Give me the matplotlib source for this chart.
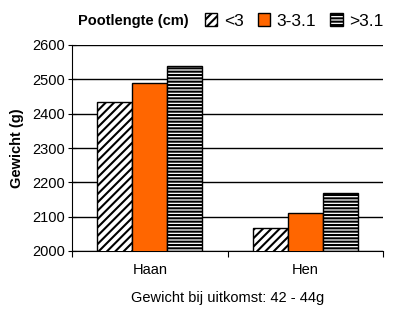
import matplotlib.pyplot as plt
import numpy as np
from matplotlib.patches import Patch

plt.rcParams['font.family'] = ['Liberation Sans', 'DejaVu Sans']
plt.rcParams['hatch.linewidth'] = 1.5

categories = ['Haan', 'Hen']
series = ['<3', '3-3.1', '>3.1']
vals_lt3 = [2435, 2066]
vals_mid = [2488, 2111]
vals_gt3 = [2538, 2168]
yticks = [2000, 2100, 2200, 2300, 2400, 2500, 2600]

fig = plt.figure(figsize=(4.2, 3.16), dpi=100)
ax = fig.add_axes([72/420, 1-251/316, 311/420, 206/316])

x = np.arange(len(categories))
w = 0.225
styles = [dict(color='white', hatch='////'),
          dict(color='#FF6600', hatch=None),
          dict(color='white', hatch='-----')]
for i, (vals, st) in enumerate(zip([vals_lt3, vals_mid, vals_gt3], styles)):
    ax.bar(x + (i-1)*w, vals, w, facecolor=st['color'], hatch=st['hatch'],
           edgecolor='black', linewidth=1, zorder=3)

ax.set_xlim(-0.5, 1.5)
ax.set_ylim(2000, 2600)
ax.set_yticks(yticks)
ax.yaxis.grid(True, color='black', linewidth=1, zorder=0)
ax.set_axisbelow(True)
ax.set_xticks([-0.5, 0.5, 1.5])
ax.set_xticklabels([])
ax.set_xticks(x, minor=True)
ax.set_xticklabels(categories, minor=True, fontsize=10.5)
ax.tick_params(axis='x', which='minor', length=0, pad=9)
ax.tick_params(axis='x', which='major', length=4, direction='out')
ax.tick_params(axis='y', length=6, direction='inout', labelsize=10.5, pad=2)
for s in ['top', 'right']:
    ax.spines[s].set_visible(False)
ax.set_ylabel('Gewicht (g)', fontsize=10.5, fontweight='bold', labelpad=6)
ax.set_xlabel('Gewicht bij uitkomst: 42 - 44g', fontsize=10.5, labelpad=10)

fig.text(78/420, 1-21/316, 'Pootlengte (cm)', fontsize=10.5, fontweight='bold',
         va='center', ha='left')
handles = [Patch(facecolor=st['color'], hatch=st['hatch'], edgecolor='black',
                 linewidth=1) for st in styles]
fig.legend(handles, series, ncol=3, frameon=False, fontsize=12.5,
           loc='center left', bbox_to_anchor=(205/420, 1-21/316),
           handlelength=0.7, handleheight=0.7, handletextpad=0.4,
           columnspacing=0.8, borderaxespad=0, borderpad=0)

plt.savefig('out.png', dpi=100)
